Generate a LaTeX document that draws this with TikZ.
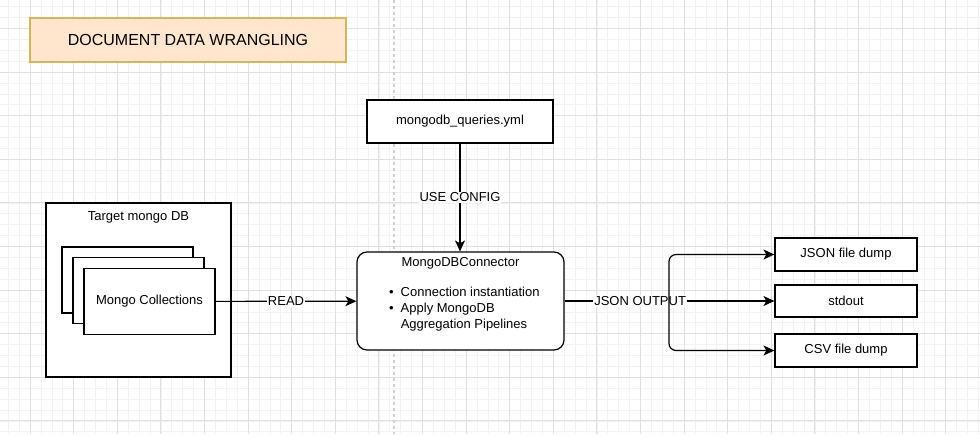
\documentclass[tikz,border=0pt]{standalone}
\usepackage{fontspec}
\setmainfont{Liberation Sans}
\usepackage{tikz}
\usetikzlibrary{arrows.meta,positioning,calc}
\definecolor{titlefill}{HTML}{FFE6CC}
\definecolor{titledraw}{HTML}{D6B656}
\definecolor{gridminor}{HTML}{F2F2F2}
\definecolor{gridmajor}{HTML}{E0E0E0}
\definecolor{pageline}{HTML}{D0D0D0}
\tikzstyle{box} = [rectangle, draw=black, fill=white, line width=1.2pt, inner sep=0pt, font=\fontsize{13}{15}\selectfont]
\tikzstyle{heading} = [box, draw=titledraw, fill=titlefill, font=\fontsize{16}{18}\selectfont]
\tikzstyle{txt} = [inner sep=0pt, font=\fontsize{13}{15}\selectfont]
\tikzstyle{lbl} = [fill=white, inner sep=1pt, font=\fontsize{13}{15}\selectfont]
\tikzstyle{arr} = [line width=1.2pt, -{Stealth[length=11pt,width=10pt,inset=3pt]}]

\begin{document}
\begin{tikzpicture}[x=1pt,y=-1pt]
	\useasboundingbox (0,0) rectangle (980,434);
	% background grid
	\foreach \i in {0,...,91} \draw[gridminor, line width=0.6pt] ({-13.6+10.9*\i},0) -- ++(0,434);
	\foreach \i in {0,...,41} \draw[gridminor, line width=0.6pt] (0,{-15.2+10.9*\i}) -- ++(980,0);
	\foreach \i in {0,...,23} \draw[gridmajor, line width=0.8pt] ({-13.6+43.6*\i},0) -- ++(0,434);
	\foreach \i in {0,...,11} \draw[gridmajor, line width=0.8pt] (0,{-15.2+43.6*\i}) -- ++(980,0);
	\draw[pageline, line width=1.2pt, dash pattern=on 3pt off 3pt] (394,0) -- (394,434);
	
	\node[heading, minimum width=316pt, minimum height=44pt] (title) at (188,40) {DOCUMENT DATA WRANGLING};
	\node[box, minimum width=186pt, minimum height=43pt] (queries) at (460,121.5) {mongodb\_queries.yml};
	
	% source database
	\node[box, minimum width=185pt, minimum height=174pt] (target) at (138.5,290) {};
	\node[txt] (targetlbl) at (138.5,217) {Target mongo DB};
	\node[box, minimum width=131pt, minimum height=66pt] (coll3) at (127.5,280) {};
	\node[box, minimum width=131pt, minimum height=66pt] (coll2) at (138.5,290.5) {};
	\node[box, minimum width=131pt, minimum height=66pt] (coll1) at (149.5,301.5) {Mongo Collections};
	
	% connector
	\node[box, rounded corners=10pt, minimum width=207pt, minimum height=98pt] (conn) at (460.5,301) {};
	\node[txt] (connlbl) at (460.5,263) {MongoDBConnector};
	\node[txt, anchor=west, font=\fontsize{13}{16}\selectfont] (connlist) at (389,309) {%
		\begin{tabular}{@{}l@{\hspace{7pt}}l@{}}
			\textbullet & Connection instantiation\\
			\textbullet & Apply MongoDB\\
			& Aggregation Pipelines
		\end{tabular}};
	
	% outputs
	\node[box, minimum width=142pt, minimum height=33pt] (jsondump) at (846,254.5) {JSON file dump};
	\node[box, minimum width=142pt, minimum height=32pt] (stdout) at (846,301) {stdout};
	\node[box, minimum width=142pt, minimum height=33pt] (csvdump) at (846,350.5) {CSV file dump};
	\coordinate (split) at (669,301);
	
	\draw[arr] (queries.south) -- node[lbl] {USE CONFIG} (queries.south |- conn.north);
	\draw[arr] (coll1) -- node[lbl] {READ} (conn);
	\draw[arr] (conn) -- node[lbl, pos=0.36] {JSON OUTPUT} (stdout);
	\draw[arr, rounded corners=7pt] (split) |- (jsondump);
	\draw[arr, rounded corners=7pt] (split) |- (csvdump);
\end{tikzpicture}
\end{document}
